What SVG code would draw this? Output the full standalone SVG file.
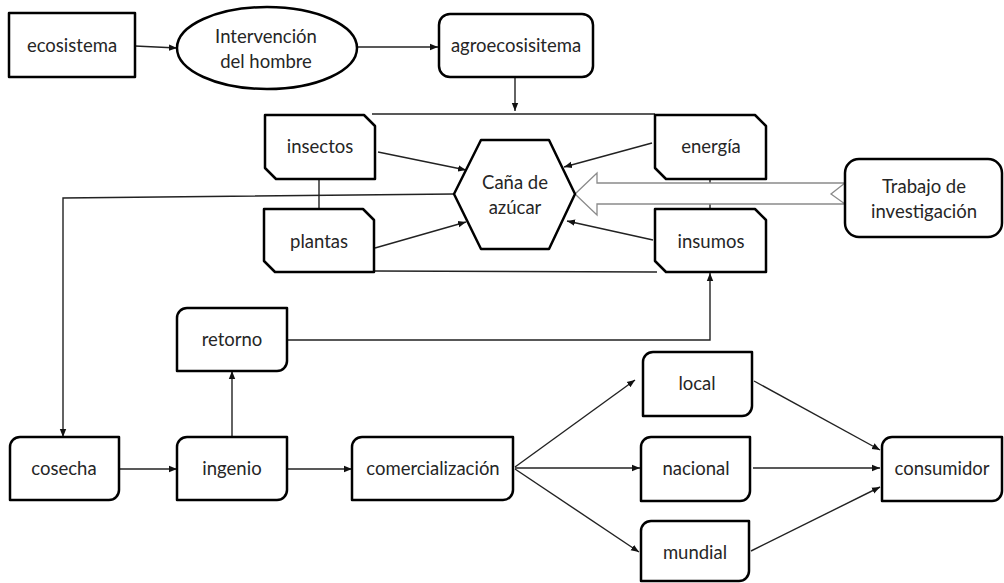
<svg xmlns="http://www.w3.org/2000/svg" width="1004" height="583" viewBox="0 0 1004 583">
<defs>
<marker id="ah" markerUnits="userSpaceOnUse" markerWidth="9" markerHeight="8" refX="8" refY="4" orient="auto">
<path d="M0,0.8 L8,4 L0,7.2 Z" fill="#111"/>
</marker>
<style>
.n{fill:#fff;stroke:#000;stroke-width:2.5;stroke-linejoin:round}
.t{font-family:Lato,"Open Sans",sans-serif;font-size:18.5px;fill:#262626;text-anchor:middle;dominant-baseline:central}
.c{fill:none;stroke:#222;stroke-width:1.4}
.a{marker-end:url(#ah)}
</style>
</defs>
<rect width="1004" height="583" fill="#fff"/>
<g id="connectors">
<line class="c a" x1="135" y1="46" x2="177" y2="48"/>
<line class="c a" x1="357" y1="47" x2="438" y2="47"/>
<line class="c a" x1="515" y1="77" x2="515" y2="111"/>
<line class="c" x1="372" y1="114" x2="655" y2="114"/>
<line class="c" x1="319" y1="179" x2="319" y2="209"/>
<line class="c" x1="710" y1="179" x2="710" y2="209"/>
<line class="c a" x1="378" y1="152" x2="466" y2="170"/>
<line class="c a" x1="375" y1="248" x2="466" y2="222"/>
<line class="c a" x1="652" y1="143" x2="564" y2="167"/>
<line class="c a" x1="653" y1="240" x2="567" y2="221"/>
<polyline class="c a" points="454,194 63,198 63,437"/>
<line class="c" x1="374" y1="271" x2="657" y2="272"/>
<polyline class="c a" points="287,340 710,340 710,273"/>
<line class="c a" x1="232" y1="437" x2="232" y2="371"/>
<line class="c a" x1="119" y1="469" x2="177" y2="469"/>
<line class="c a" x1="287" y1="469" x2="352" y2="469"/>
<line class="c a" x1="515" y1="467" x2="635" y2="380"/>
<line class="c a" x1="515" y1="468" x2="640" y2="468"/>
<line class="c a" x1="515" y1="469" x2="639" y2="552"/>
<line class="c a" x1="754" y1="381" x2="880" y2="450"/>
<line class="c a" x1="753" y1="468" x2="880" y2="468"/>
<line class="c a" x1="751" y1="551" x2="880" y2="487"/>
</g>
<g id="block-arrow">
<polygon points="575,194 597,173 597,183 845,183 831,194 845,204 597,204 597,215" fill="#fff" stroke="#8a8a8a" stroke-width="1.3" stroke-linejoin="miter"/>
</g>
<g id="ecosistema">
<rect class="n" x="9" y="13" width="126" height="64" stroke-linejoin="miter"/>
<text class="t" x="72" y="45">ecosistema</text>
</g>
<g id="intervencion">
<ellipse class="n" cx="267" cy="48" rx="90" ry="41"/>
<text class="t" x="266" y="36">Intervención</text>
<text class="t" x="266" y="61">del hombre</text>
</g>
<g id="agroecosisitema">
<rect class="n" x="439" y="14" width="154" height="63" rx="11"/>
<text class="t" x="516" y="45">agroecosisitema</text>
</g>
<g id="insectos">
<path class="n" d="M265,115 H364 L375,126 V179 H276 L265,168 Z"/>
<text class="t" x="320" y="146">insectos</text>
</g>
<g id="plantas">
<path class="n" d="M264,209 H363 L374,220 V272 H275 L264,261 Z"/>
<text class="t" x="319" y="241">plantas</text>
</g>
<g id="energia">
<path class="n" d="M655,115 H755 L766,126 V179 H666 L655,168 Z"/>
<text class="t" x="711" y="146">energía</text>
</g>
<g id="insumos">
<path class="n" d="M655,209 H755 L766,220 V272 H666 L655,261 Z"/>
<text class="t" x="711" y="241">insumos</text>
</g>
<g id="cana">
<polygon class="n" points="454,194 481,140 549,140 575,194 549,249 481,249"/>
<text class="t" x="515" y="182">Caña de</text>
<text class="t" x="515" y="207">azúcar</text>
</g>
<g id="trabajo">
<rect class="n" x="845" y="159" width="157" height="78" rx="14"/>
<text class="t" x="924" y="186">Trabajo de</text>
<text class="t" x="924" y="211">investigación</text>
</g>
<g id="retorno">
<path class="n" d="M187,308 H287 V361 A10,10 0 0 1 277,371 H177 V318 A10,10 0 0 1 187,308 Z"/>
<text class="t" x="232" y="339">retorno</text>
</g>
<g id="cosecha">
<path class="n" d="M20,437 H119 V490 A10,10 0 0 1 109,500 H10 V447 A10,10 0 0 1 20,437 Z"/>
<text class="t" x="64" y="468">cosecha</text>
</g>
<g id="ingenio">
<path class="n" d="M187,437 H287 V490 A10,10 0 0 1 277,500 H177 V447 A10,10 0 0 1 187,437 Z"/>
<text class="t" x="232" y="468">ingenio</text>
</g>
<g id="comercializacion">
<path class="n" d="M362,437 H513 V490 A10,10 0 0 1 503,500 H352 V447 A10,10 0 0 1 362,437 Z"/>
<text class="t" x="433" y="468">comercialización</text>
</g>
<g id="local">
<path class="n" d="M653,352 H752 V406 A10,10 0 0 1 742,416 H643 V362 A10,10 0 0 1 653,352 Z"/>
<text class="t" x="697" y="383">local</text>
</g>
<g id="nacional">
<path class="n" d="M651,437 H750 V491 A10,10 0 0 1 740,501 H641 V447 A10,10 0 0 1 651,437 Z"/>
<text class="t" x="696" y="468">nacional</text>
</g>
<g id="mundial">
<path class="n" d="M651,521 H749 V571 A10,10 0 0 1 739,581 H641 V531 A10,10 0 0 1 651,521 Z"/>
<text class="t" x="695" y="552">mundial</text>
</g>
<g id="consumidor">
<path class="n" d="M892,437 H1002 V491 A10,10 0 0 1 992,501 H882 V447 A10,10 0 0 1 892,437 Z"/>
<text class="t" x="942" y="468">consumidor</text>
</g>
</svg>
